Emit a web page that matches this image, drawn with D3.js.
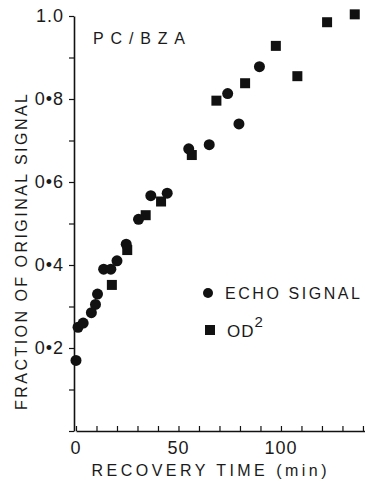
<!DOCTYPE html>
<html>
<head>
<meta charset="utf-8">
<script src="https://cdn.jsdelivr.net/npm/d3@7"></script>
<style>
  body { margin: 0; background: #fff; }
  text { font-family: "Liberation Sans", "DejaVu Sans", sans-serif; fill: #1a1a1a; }
</style>
</head>
<body>
<div id="chart"></div>
<script>
const W = 365;
const H = 481;

// echo signal (circles): recovery time (min), fraction
const echoTime  = [0, 1, 3.5, 7.5, 9.5, 10.5, 13.5, 17, 20, 24.5, 30.5, 36.5, 44.5, 55, 65, 74, 79.5, 89.5];
const echoValue = [0.17, 0.25, 0.26, 0.285, 0.305, 0.33, 0.39, 0.39, 0.41, 0.45, 0.51, 0.567, 0.573, 0.68, 0.69, 0.813, 0.74, 0.878];

// OD^2 (squares)
const odTime  = [17.5, 25, 34, 41.5, 56.5, 68.5, 82.5, 97.5, 108, 122.5, 136];
const odValue = [0.352, 0.436, 0.52, 0.553, 0.665, 0.796, 0.838, 0.928, 0.855, 0.985, 1.004];

const xMajor = [0, 50, 100];
const yMajor = [0.2, 0.4, 0.6, 0.8, 1.0];
const yLabels = ["0\u20222", "0\u20224", "0\u20226", "0\u20228", "1.0"];

const svg = d3.select("#chart").append("svg")
  .attr("width", W)
  .attr("height", H);

const x = d3.scaleLinear().domain([0, 141]).range([76, 365]);
const y = d3.scaleLinear().domain([0, 1]).range([431, 16]);

// x axis: minor ticks every 10 min pointing up
const xAxis = d3.axisBottom(x)
  .tickValues(d3.range(0, 141, 10))
  .tickSize(-5)
  .tickSizeOuter(0)
  .tickFormat("");
const gx = svg.append("g")
  .attr("transform", `translate(0, ${y(0)})`)
  .call(xAxis);
gx.select(".domain").attr("stroke", "#111").attr("stroke-width", 1.6);
gx.selectAll(".tick line").attr("stroke", "#111").attr("stroke-width", 1.2);

svg.append("g").selectAll("text")
  .data(xMajor)
  .join("text")
  .attr("x", d => x(d))
  .attr("y", 454)
  .attr("text-anchor", "middle")
  .attr("font-size", 18)
  .attr("letter-spacing", 1)
  .text(d => d);

// y axis: ticks every 0.1 pointing left
const yAxis = d3.axisLeft(y)
  .tickValues(d3.range(0, 1.01, 0.1))
  .tickSize(5)
  .tickSizeOuter(0)
  .tickFormat("");
const gy = svg.append("g")
  .attr("transform", `translate(${x(0) - 2}, 0)`)
  .call(yAxis);
gy.select(".domain").attr("stroke", "#111").attr("stroke-width", 1.6);
gy.selectAll(".tick line").attr("stroke", "#111").attr("stroke-width", 1.2);

svg.append("g").selectAll("text")
  .data(yMajor)
  .join("text")
  .attr("x", 64)
  .attr("y", d => y(d))
  .attr("dy", "0.35em")
  .attr("text-anchor", "end")
  .attr("font-size", 18)
  .attr("letter-spacing", 1)
  .text((d, i) => yLabels[i]);

// axis titles
svg.append("text")
  .attr("x", 209)
  .attr("y", 476)
  .attr("text-anchor", "middle")
  .attr("font-size", 16)
  .attr("textLength", 235)
  .text("RECOVERY  TIME  (min)");

svg.append("text")
  .attr("transform", "translate(27, 252) rotate(-90)")
  .attr("text-anchor", "middle")
  .attr("font-size", 16)
  .attr("textLength", 316)
  .text("FRACTION  OF  ORIGINAL  SIGNAL");

svg.append("text")
  .attr("x", 93)
  .attr("y", 44)
  .attr("font-size", 16)
  .attr("textLength", 92)
  .text("PC/BZA");

// data marks
const echo = echoTime.map((t, i) => ({ t, v: echoValue[i] }));
const od = odTime.map((t, i) => ({ t, v: odValue[i] }));

svg.append("g").selectAll("rect")
  .data(od)
  .join("rect")
  .attr("x", d => x(d.t) - 5)
  .attr("y", d => y(d.v) - 5)
  .attr("width", 10)
  .attr("height", 10)
  .attr("fill", "#111");

svg.append("g").selectAll("circle")
  .data(echo)
  .join("circle")
  .attr("cx", d => x(d.t))
  .attr("cy", d => y(d.v))
  .attr("r", 5.5)
  .attr("fill", "#111");

// legend
const legend = svg.append("g");
legend.append("circle")
  .attr("cx", 208).attr("cy", 293).attr("r", 5)
  .attr("fill", "#111");
legend.append("text")
  .attr("x", 225).attr("y", 299)
  .attr("font-size", 16)
  .attr("textLength", 135)
  .text("ECHO  SIGNAL");
legend.append("rect")
  .attr("x", 205).attr("y", 325).attr("width", 10).attr("height", 10)
  .attr("fill", "#111");
const odText = legend.append("text")
  .attr("x", 227).attr("y", 337)
  .attr("font-size", 17)
  .attr("letter-spacing", 1);
odText.append("tspan").text("OD");
odText.append("tspan")
  .attr("dy", -10)
  .attr("font-size", 15)
  .text("2");
</script>
</body>
</html>
